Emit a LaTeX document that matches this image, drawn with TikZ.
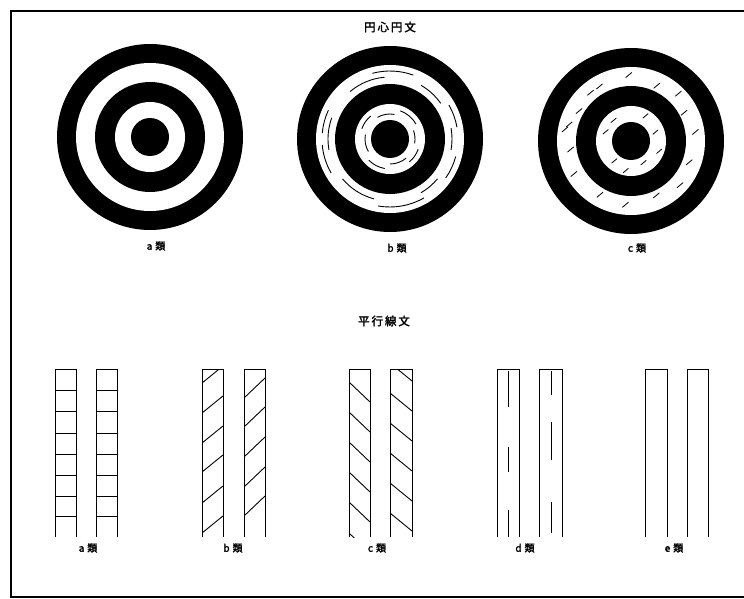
\documentclass[tikz,border=0pt]{standalone}
\usepackage{fontspec}
\newfontfamily\cjk{Noto Sans CJK JP}[AutoFakeBold=2]
\begin{document}
\begin{tikzpicture}[x=1pt,y=-1pt,
  frame/.style={line width=1.4pt},
  bar/.style={line width=1pt},
  hatch/.style={line width=0.9pt},
  lab/.style={font=\cjk\bfseries\fontsize{10}{10}\selectfont, inner sep=0pt},
  ttl/.style={font=\cjk\bfseries\fontsize{11.5}{12}\selectfont, inner sep=0pt}]
\useasboundingbox (0,0) rectangle (744,599);
\clip (0,0) rectangle (744,599);
\fill[white] (0,0) rectangle (744,599);
% frame
\draw[frame] (750,11) -- (11,11) -- (11,597) -- (750,597);

% titles
\node[ttl] (t1) at (390,27) {円\,心\,円\,文};
\node[ttl] (t2) at (384,321) {平\,行\,線\,文};

% ---------- concentric circles ----------
\newcommand{\target}[1]{%
  \fill[black] (#1) circle[radius=93];
  \fill[white] (#1) circle[radius=74];
  \fill[black] (#1) circle[radius=55];
  \fill[white] (#1) circle[radius=35];
  \fill[black] (#1) circle[radius=19];}
\coordinate (ca) at (150,137);
\coordinate (cb) at (390,139);
\coordinate (cc) at (631,141);
\target{ca}
\target{cb}
\target{cc}

% b: broken concentric arcs in the white rings
\foreach \a/\b in {60/100,150/175,185/205,255/290,330/350,15/35}
  \draw[black,line width=0.9pt] (cb) ++(\a:68) arc[start angle=\a,end angle=\b,radius=68];
\foreach \a/\b in {105/140,40/60,170/200,230/265,300/325,-10/10}
  \draw[black,line width=0.9pt] (cb) ++(\a:62) arc[start angle=\a,end angle=\b,radius=62];
\foreach \a/\b in {100/135,200/230,290/330,20/50}
  \draw[black,line width=0.9pt] (cb) ++(\a:30) arc[start angle=\a,end angle=\b,radius=30];
\foreach \a/\b in {50/90,150/190,240/280,340/370}
  \draw[black,line width=0.9pt] (cb) ++(\a:25) arc[start angle=\a,end angle=\b,radius=25];

% c: short oblique strokes in the white rings
\foreach \ang/\r in {-120/63,-92/66,-65/61,-45/67,-28/60,-8/65,20/62,42/66,65/60,95/64,120/62,150/66,172/61,195/64,-150/60,-170/67,230/63}
  \draw[black,line width=0.8pt] (cc) ++(\ang:\r) ++(-40:-4) -- ++(-40:8);
\foreach \ang/\r in {-130/27,-60/29,-20/26,20/30,130/26,100/30,200/27,60/25}
  \draw[black,line width=0.8pt] (cc) ++(\ang:\r) ++(-40:-3.5) -- ++(-40:7);

% circle labels
\node[lab] (la) at (156,246) {a\hspace{3pt}類};
\node[lab] (lb) at (397,248) {b\hspace{3pt}類};
\node[lab] (lc) at (637,248) {c\hspace{3pt}類};

% ---------- parallel lines ----------
\def\top{369}
\def\bot{537}
\newcommand{\barshape}[2]{\draw[bar] (#1,\bot) -- (#1,\top) -- (#2,\top) -- (#2,\bot);}

% a
\foreach \xa/\xb in {55/76,96/117}{
  \barshape{\xa}{\xb}
  \foreach \y in {390,411,433,454,475,496,516}
    \draw[hatch] (\xa,\y) -- (\xb,\y);
}
% b
\barshape{202}{223}
\begin{scope}
  \clip (202,\top) rectangle (223,\bot);
  \foreach \y in {383,413,443,472,503,533}
    \draw[hatch] (202,\y) -- (223,\y-17);
\end{scope}
\barshape{244}{265}
\begin{scope}
  \clip (244,\top) rectangle (265,\bot);
  \foreach \y in {398,427,457,487,516}
    \draw[hatch] (244,\y) -- (265,\y-20);
\end{scope}
% c
\barshape{349}{370}
\begin{scope}
  \clip (349,\top) rectangle (370,\bot);
  \foreach \y in {382,412,442,472,502,533}
    \draw[hatch] (349,\y) -- (370,\y+20);
\end{scope}
\barshape{390}{412}
\begin{scope}
  \clip (390,\top) rectangle (412,\bot);
  \foreach \y in {363,393,423,453,483,513}
    \draw[hatch] (390,\y) -- (412,\y+18);
\end{scope}
% d
\barshape{497}{519}
\foreach \ya/\yb in {371/407,447/472,510/537}
  \draw[hatch] (508,\ya) -- (508,\yb);
\barshape{539}{562}
\foreach \ya/\yb in {371/395,422/460,502/533}
  \draw[hatch] (551,\ya) -- (551,\yb);
% e
\barshape{645}{667}
\barshape{687}{708}

% bar labels
\node[lab] (pa) at (88,548) {a\hspace{3pt}類};
\node[lab] (pb) at (233,548) {b\hspace{3pt}類};
\node[lab] (pc) at (377,548) {c\hspace{3pt}類};
\node[lab] (pd) at (525,548) {d\hspace{3pt}類};
\node[lab] (pe) at (674,548) {e\hspace{3pt}類};
\end{tikzpicture}
\end{document}
